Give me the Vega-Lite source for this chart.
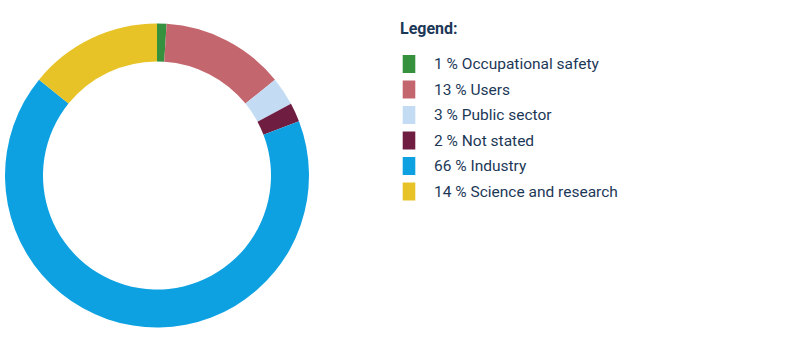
{
  "$schema": "https://vega.github.io/schema/vega-lite/v6.json",
  "width": 314,
  "height": 351,
  "autosize": {"type": "none"},
  "padding": {"left": 0, "top": 0, "right": 487, "bottom": 0},
  "background": "white",
  "view": {"stroke": null},
  "data": {
    "values": [
      {"order": 1, "category": "Occupational safety", "value": 1, "label": "\u20071\u00a0%\u00a0Occupational safety"},
      {"order": 2, "category": "Users", "value": 13, "label": "13\u00a0%\u00a0Users"},
      {"order": 3, "category": "Public sector", "value": 3, "label": "\u20073\u00a0%\u00a0Public sector"},
      {"order": 4, "category": "Not stated", "value": 2, "label": "\u20072\u00a0%\u00a0Not stated"},
      {"order": 5, "category": "Industry", "value": 66, "label": "66\u00a0%\u00a0Industry"},
      {"order": 6, "category": "Science and research", "value": 14, "label": "14\u00a0%\u00a0Science and research"}
    ]
  },
  "mark": {"type": "arc", "innerRadius": 114, "outerRadius": 152},
  "encoding": {
    "theta": {"field": "value", "type": "quantitative", "stack": true},
    "order": {"field": "order", "type": "quantitative"},
    "color": {
      "field": "label",
      "type": "nominal",
      "sort": null,
      "scale": {
        "domain": ["\u20071\u00a0%\u00a0Occupational safety", "13\u00a0%\u00a0Users", "\u20073\u00a0%\u00a0Public sector", "\u20072\u00a0%\u00a0Not stated", "66\u00a0%\u00a0Industry", "14\u00a0%\u00a0Science and research"],
        "range": ["#36913f", "#c4666e", "#c3dcf4", "#6f1d40", "#0ea1e2", "#e8c327"]
      },
      "legend": {
        "title": "Legend:",
        "orient": "none",
        "legendX": 400,
        "legendY": 21,
        "padding": 0,
        "symbolType": "M-0.7,-1H0.7V1H-0.7Z",
        "symbolSize": 324,
        "symbolStrokeWidth": 0,
        "symbolOpacity": 1,
        "labelOffset": 16,
        "labelFont": "Roboto",
        "labelFontSize": 15.5,
        "labelColor": "#1c3857",
        "labelLimit": 400,
        "rowPadding": 7.5,
        "titleFont": "Roboto",
        "titleFontSize": 16,
        "titleFontWeight": "bold",
        "titleColor": "#1c3857",
        "titlePadding": 18
      }
    }
  }
}
